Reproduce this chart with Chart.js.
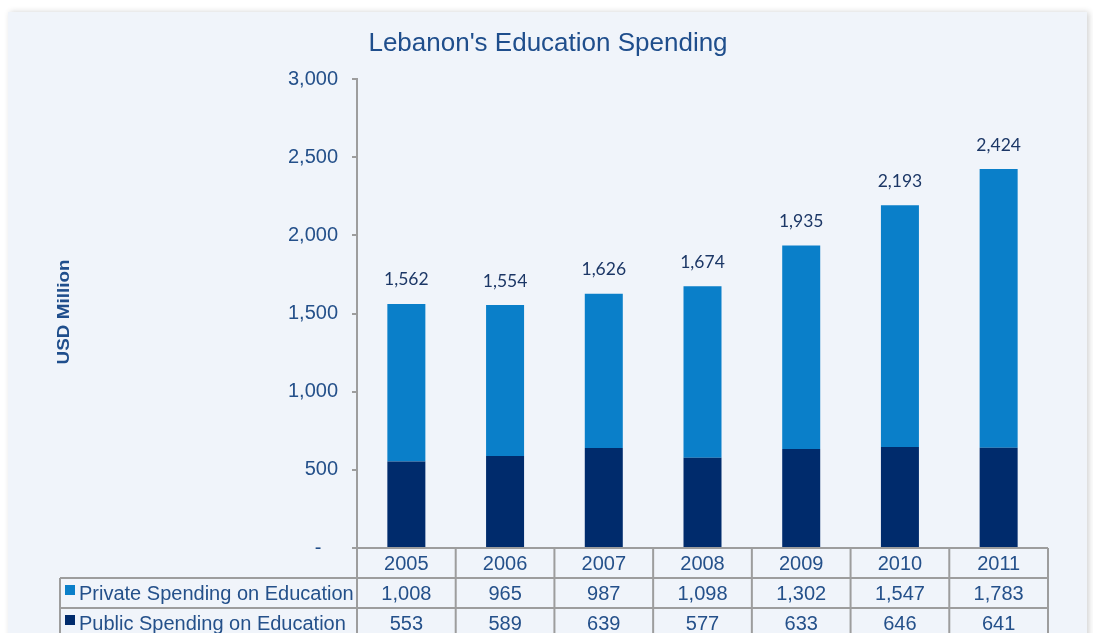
<!DOCTYPE html>
<html>
<head>
  <meta charset="utf-8">
  <title>Lebanon's Education Spending</title>
  <script src="https://cdn.jsdelivr.net/npm/chart.js"></script>
  <style>
    html, body { margin: 0; padding: 0; background: #fff; overflow: hidden; }
    .wrap { position: relative; width: 1093px; height: 633px; }
    .panel {
      position: absolute; left: 8px; top: 12px; width: 1079px; height: 660px;
      background: #f0f4fa;
      box-shadow: 2px 0 6px rgba(0,0,0,0.18);
    }
    #chart { position: absolute; left: 0; top: 0; }
  </style>
</head>
<body>
<div class="wrap">
  <div class="panel"></div>
  <canvas id="chart" width="1093" height="633"></canvas>
</div>

<script>
// chart data
var years = ['2005', '2006', '2007', '2008', '2009', '2010', '2011'];
var privateSpend = [1008, 965, 987, 1098, 1302, 1547, 1783];
var publicSpend = [553, 589, 639, 577, 633, 646, 641];
var totals = [1562, 1554, 1626, 1674, 1935, 2193, 2424];
var yTicks = [0, 500, 1000, 1500, 2000, 2500, 3000];

var textBlue = '#24508a';
var lineGray = '#9d9d9d';
var privateColor = '#0a7fc9';
var publicColor = '#002b6c';

function fmt(v) {
  return v.toLocaleString('en-US');
}

// title, axis title, total labels and the data table under the bars
var extras = {
  id: 'extras',
  afterDraw: function(chart) {
    var ctx = chart.ctx;
    var area = chart.chartArea;
    var x = chart.scales.x;
    var y = chart.scales.y;
    var colW = (area.right - area.left) / years.length;

    ctx.save();

    // title
    ctx.fillStyle = '#1f4e8c';
    ctx.font = '26px Arial, "Liberation Sans", sans-serif';
    ctx.textAlign = 'center';
    ctx.textBaseline = 'middle';
    ctx.fillText("Lebanon's Education Spending", 548, 44);

    // y axis title
    ctx.save();
    ctx.translate(65, 312);
    ctx.rotate(-Math.PI / 2);
    ctx.scale(1.18, 1);
    ctx.font = 'bold 16px Arial, "Liberation Sans", sans-serif';
    ctx.fillStyle = '#1f4e8c';
    ctx.fillText('USD Million', 0, 0);
    ctx.restore();

    // totals above each bar
    ctx.font = '17.5px Lato, "Open Sans", sans-serif';
    ctx.fillStyle = '#1c3766';
    totals.forEach(function(t, i) {
      ctx.fillText(fmt(t), x.getPixelForValue(i), y.getPixelForValue(t) - 24);
    });

    // table grid
    var r0 = area.bottom, r1 = r0 + 30, r2 = r1 + 30, r3 = r2 + 30;
    var labelLeft = 60;
    ctx.strokeStyle = lineGray;
    ctx.lineWidth = 2;
    ctx.beginPath();
    ctx.moveTo(area.left - 5, r0); ctx.lineTo(area.right, r0);
    ctx.moveTo(labelLeft, r1); ctx.lineTo(area.right, r1);
    ctx.moveTo(labelLeft, r2); ctx.lineTo(area.right, r2);
    ctx.moveTo(labelLeft, r1); ctx.lineTo(labelLeft, r3);
    for (var i = 0; i <= years.length; i++) {
      var cx = area.left + i * colW;
      ctx.moveTo(cx, r0); ctx.lineTo(cx, r3);
    }
    ctx.stroke();

    // table text
    ctx.font = '20px Arial, "Liberation Sans", sans-serif';
    ctx.fillStyle = textBlue;
    ctx.textAlign = 'center';
    years.forEach(function(yr, i) {
      var cx = x.getPixelForValue(i);
      ctx.fillText(yr, cx, (r0 + r1) / 2 + 1);
      ctx.fillText(fmt(privateSpend[i]), cx, (r1 + r2) / 2 + 1);
      ctx.fillText(fmt(publicSpend[i]), cx, (r2 + r3) / 2 + 1);
    });

    // row headers with legend keys
    ctx.textAlign = 'left';
    ctx.fillStyle = privateColor;
    ctx.fillRect(65, r1 + 7, 10, 10);
    ctx.fillStyle = publicColor;
    ctx.fillRect(65, r2 + 7, 10, 10);
    ctx.fillStyle = textBlue;
    ctx.fillText('Private Spending on Education', 79, (r1 + r2) / 2 + 1);
    ctx.fillText('Public Spending on Education', 79, (r2 + r3) / 2 + 1);

    ctx.restore();
  }
};

var ctx = document.getElementById('chart').getContext('2d');
var myChart = new Chart(ctx, {
  type: 'bar',
  data: {
    labels: years,
    datasets: [{
      label: 'Public Spending on Education',
      data: publicSpend,
      backgroundColor: publicColor,
      barPercentage: 0.385,
      categoryPercentage: 1
    }, {
      label: 'Private Spending on Education',
      data: privateSpend,
      backgroundColor: privateColor,
      barPercentage: 0.385,
      categoryPercentage: 1
    }]
  },
  options: {
    responsive: false,
    animation: false,
    layout: {
      padding: { top: 79, right: 45, bottom: 85, left: 0 }
    },
    plugins: {
      legend: { display: false },
      title: { display: false },
      tooltip: { enabled: false }
    },
    scales: {
      x: {
        stacked: true,
        display: false
      },
      y: {
        stacked: true,
        min: 0,
        max: 3000,
        afterFit: function(scale) { scale.width = 357; },
        afterBuildTicks: function(scale) {
          scale.ticks = yTicks.map(function(v) { return { value: v }; });
        },
        ticks: {
          padding: 14,
          color: textBlue,
          font: { family: 'Arial, "Liberation Sans", sans-serif', size: 20 },
          callback: function(v) { return v === 0 ? '-   ' : fmt(v); }
        },
        grid: {
          drawOnChartArea: false,
          drawTicks: true,
          tickLength: 5,
          color: lineGray,
          lineWidth: 2
        },
        border: { display: true, color: lineGray, width: 2 }
      }
    }
  },
  plugins: [extras]
});
</script>
</body>
</html>
